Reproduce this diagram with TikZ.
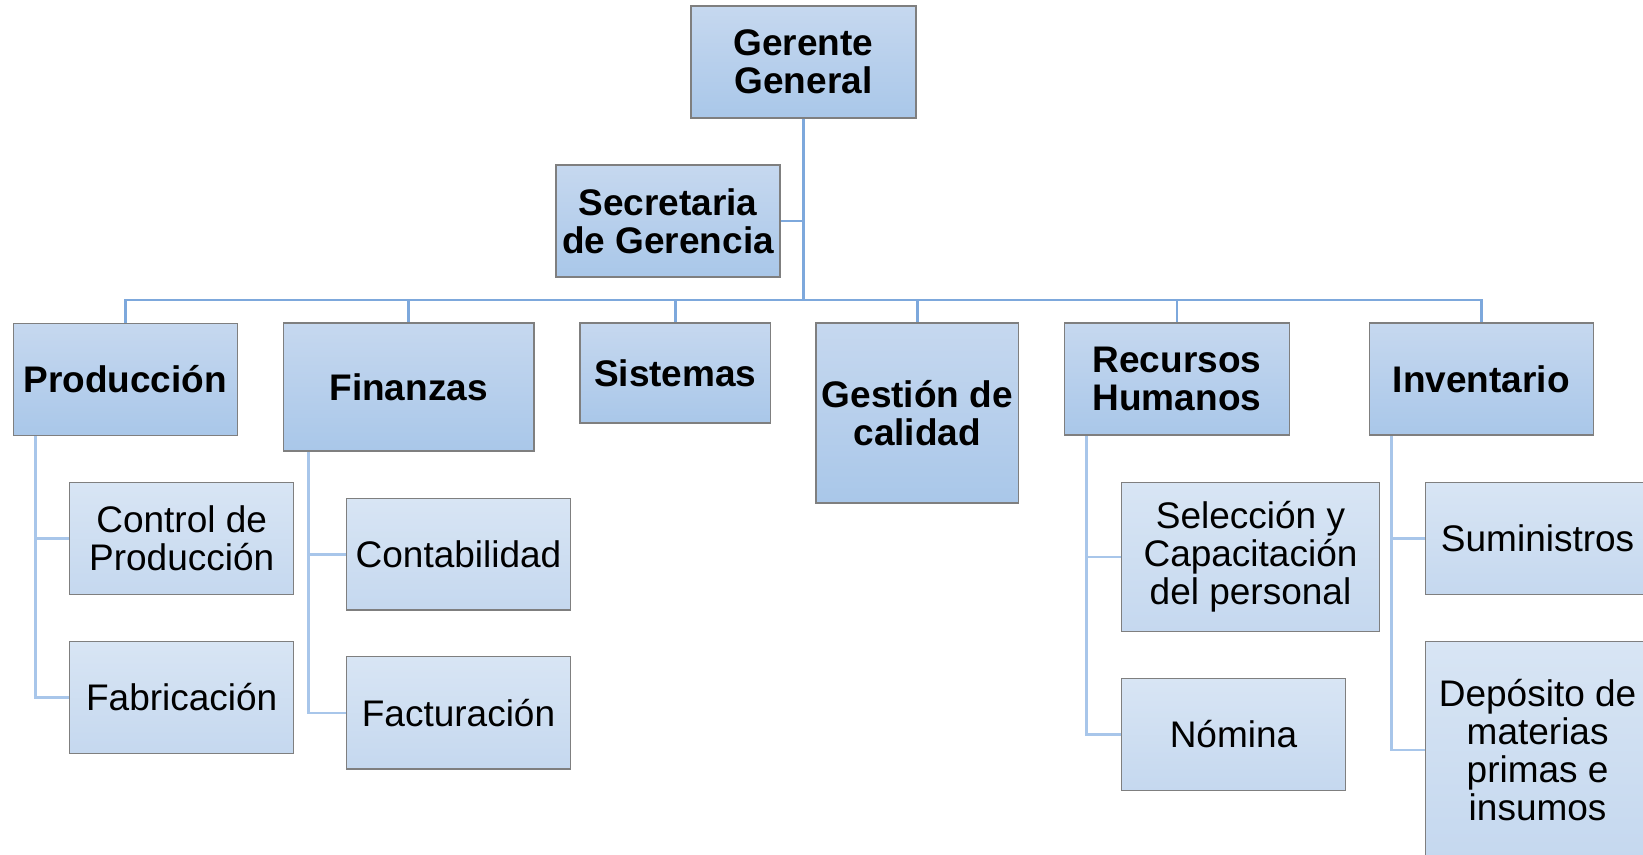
\documentclass[tikz,border=0pt]{standalone}
\usepackage{fontspec}
\setmainfont{Liberation Sans}
\usetikzlibrary{backgrounds}
\definecolor{mainTop}{HTML}{C6D8EF}
\definecolor{mainBot}{HTML}{A9C7E9}
\definecolor{subTop}{HTML}{D8E5F4}
\definecolor{subBot}{HTML}{C5D8EF}
\definecolor{boxLine}{HTML}{7F7F7F}
\definecolor{linkMain}{HTML}{7DA8DC}
\definecolor{linkSub}{HTML}{A8C6EA}
\tikzset{
  box/.style={draw=boxLine, line width=1.3pt, inner sep=0pt, align=center, text=black},
  mainbox/.style={box, top color=mainTop, bottom color=mainBot, font=\fontsize{37}{38}\selectfont\bfseries},
  subbox/.style={box, top color=subTop, bottom color=subBot, font=\fontsize{37}{38}\selectfont},
  wh/.style 2 args={minimum width=#1pt, minimum height=#2pt},
  mainlink/.style={draw=linkMain, line width=2.6pt},
  sublink/.style={draw=linkSub, line width=2.6pt},
}
\begin{document}
\begin{tikzpicture}[x=1pt, y=-1pt]
\useasboundingbox (0,0) rectangle (1643,854);
\clip (0,0) rectangle (1643,854);
% top level
\node[mainbox, wh={225}{112}] (gerente) at (803.5,62) {Gerente\\General};
\node[mainbox, wh={224}{112}] (secretaria) at (668,221) {Secretaria\\de Gerencia};
\coordinate (bus) at (803.5,300);
% departments
\node[mainbox, wh={224}{112}] (produccion) at (125.2,379.5) {Producción};
\node[mainbox, wh={250.5}{128}] (finanzas) at (408.6,387) {Finanzas};
\node[mainbox, wh={190.7}{100}] (sistemas) at (675.3,373) {Sistemas};
\node[mainbox, wh={202.7}{180}] (gestion) at (917.3,413) {Gestión de\\calidad};
\node[mainbox, wh={225}{112}] (recursos) at (1176.9,379) {Recursos\\Humanos};
\node[mainbox, wh={224.3}{112}] (inventario) at (1481.3,379) {Inventario};
% sub units
\node[subbox, wh={224}{111.6}] (ctrlprod) at (181.7,538.5) {Control de\\Producción};
\node[subbox, wh={224}{111.6}] (fabric) at (181.7,697.5) {Fabricación};
\node[subbox, wh={224.5}{111.7}] (contab) at (458.5,554.2) {Contabilidad};
\node[subbox, wh={224.5}{112.3}] (factur) at (458.5,712.8) {Facturación};
\node[subbox, wh={258}{149}] (seleccion) at (1250.5,557) {Selección y\\Capacitación\\del personal};
\node[subbox, wh={224}{112}] (nomina) at (1233.5,734.5) {Nómina};
\node[subbox, wh={224}{112}] (sumin) at (1537.6,538.5) {Suministros};
\node[subbox, wh={224}{217}] (deposito) at (1537.6,750) {Depósito de\\materias\\primas e\\insumos};
% spines
\coordinate (pspine) at ([xshift=23pt]produccion.south west);
\coordinate (fspine) at ([xshift=25.9pt]finanzas.south west);
\coordinate (rspine) at ([xshift=23pt]recursos.south west);
\coordinate (ispine) at ([xshift=23.1pt]inventario.south west);
\begin{pgfonlayer}{background}
\fill[white] (0,0) rectangle (1643,854);
\draw[mainlink] (gerente.south) -- (gerente.south |- bus);
\draw[mainlink] (secretaria.east) -- (secretaria.east -| gerente.south);
\draw[mainlink] (produccion.north) -- (produccion.north |- bus) -- (inventario.north |- bus) -- (inventario.north);
\foreach \n in {finanzas,sistemas,gestion,recursos}
  \draw[mainlink] (\n.north) -- (\n.north |- bus);
\draw[sublink] (pspine) |- (fabric.west);
\draw[sublink] (pspine |- ctrlprod.west) -- (ctrlprod.west);
\draw[sublink] (fspine) |- (factur.west);
\draw[sublink] (fspine |- contab.west) -- (contab.west);
\draw[sublink] (rspine) |- (nomina.west);
\draw[sublink] (rspine |- seleccion.west) -- (seleccion.west);
\draw[sublink] (ispine) |- (deposito.west);
\draw[sublink] (ispine |- sumin.west) -- (sumin.west);
\end{pgfonlayer}
\end{tikzpicture}
\end{document}
